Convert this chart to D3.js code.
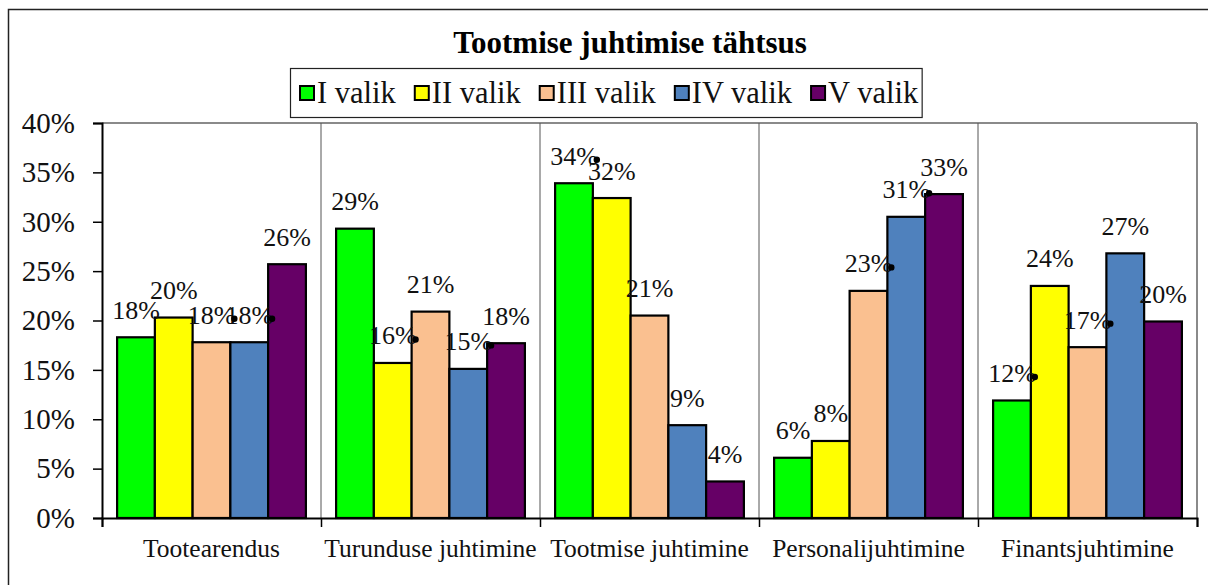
<!DOCTYPE html>
<html>
<head>
<meta charset="utf-8">
<script src="https://cdn.jsdelivr.net/npm/d3@7"></script>
<style>
  body { margin: 0; background: #fff; }
  svg text { font-family: "Liberation Serif", "Times New Roman", serif; }
</style>
</head>
<body>
<div id="mainCanvas"></div>
<script>
// chart data
var categories = ["Tootearendus", "Turunduse juhtimine", "Tootmise juhtimine", "Personalijuhtimine", "Finantsjuhtimine"];
var seriesNames = ["I valik", "II valik", "III valik", "IV valik", "V valik"];
var iValik   = [18.3, 29.3, 33.9, 6.1, 11.9];
var iiValik  = [20.3, 15.7, 32.4, 7.8, 23.5];
var iiiValik = [17.8, 20.9, 20.5, 23.0, 17.3];
var ivValik  = [17.8, 15.1, 9.4, 30.5, 26.8];
var vValik   = [25.7, 17.7, 3.7, 32.8, 19.9];
var yTicks = [0, 5, 10, 15, 20, 25, 30, 35, 40];
var seriesColors = ["#00ff00", "#ffff00", "#fac090", "#4f81bd", "#660066"];
// labels that show the little leader dot in the original [category, series]
var leaderDots = [[0,2],[0,3],[1,1],[1,3],[2,0],[3,2],[3,3],[4,0],[4,2]];

var allSeries = [iValik, iiValik, iiiValik, ivValik, vValik];

var width = 1208, height = 585;
var plot = {left: 102, right: 1197, top: 123, bottom: 518};
var serif = "'Liberation Serif', 'Times New Roman', serif";

var svg = d3.select("#mainCanvas").append("svg")
    .attr("width", width)
    .attr("height", height);

svg.append("rect").attr("width", width).attr("height", height).style("fill", "#fff");

// outer frame (runs off the right and bottom edge)
svg.append("rect")
    .attr("x", 8.5).attr("y", 9.5)
    .attr("width", 1230).attr("height", 600)
    .style("fill", "none").style("stroke", "#222").style("stroke-width", 1.5);

var x0 = d3.scaleBand().domain(d3.range(categories.length))
    .range([plot.left, plot.right]).paddingInner(0).paddingOuter(0);
var x1 = d3.scaleBand().domain(d3.range(seriesNames.length))
    .range([0, x0.bandwidth()]).paddingInner(0).paddingOuter(0.4);
var y = d3.scaleLinear().domain([0, 40]).range([plot.bottom, plot.top]);

// plot border (top + right) and category separators
svg.append("line")
    .attr("x1", plot.left).attr("x2", plot.right)
    .attr("y1", plot.top).attr("y2", plot.top)
    .style("stroke", "#8a8a8a").style("stroke-width", 2);
svg.append("line")
    .attr("x1", plot.right).attr("x2", plot.right)
    .attr("y1", plot.top).attr("y2", plot.bottom)
    .style("stroke", "#8a8a8a").style("stroke-width", 2);
svg.selectAll(".sep").data(d3.range(1, categories.length)).enter()
    .append("line").attr("class", "sep")
    .attr("x1", function(d){ return x0(d); }).attr("x2", function(d){ return x0(d); })
    .attr("y1", plot.top).attr("y2", plot.bottom)
    .style("stroke", "#555").style("stroke-width", 1);

// bars
var groups = svg.selectAll(".cat").data(categories).enter()
    .append("g").attr("class", "cat")
    .attr("transform", function(d, i){ return "translate(" + x0(i) + ",0)"; });

groups.selectAll("rect").data(function(d, ci){
        return allSeries.map(function(s, si){ return {ci: ci, si: si, v: s[ci]}; });
    }).enter()
    .append("rect")
    .attr("x", function(d){ return x1(d.si); })
    .attr("y", function(d){ return y(d.v); })
    .attr("width", x1.bandwidth())
    .attr("height", function(d){ return y(0) - y(d.v); })
    .style("fill", function(d){ return seriesColors[d.si]; })
    .style("stroke", "#000").style("stroke-width", 2.2);

// data labels
var labels = groups.selectAll("text.val").data(function(d, ci){
        return allSeries.map(function(s, si){ return {ci: ci, si: si, v: s[ci]}; });
    }).enter()
    .append("text").attr("class", "val")
    .attr("x", function(d){ return x1(d.si) + x1.bandwidth() / 2; })
    .attr("y", function(d){ return y(d.v) - 18.5; })
    .attr("text-anchor", "middle")
    .style("font-family", serif)
    .style("font-size", "26px")
    .style("fill", "#111")
    .text(function(d){ return Math.round(d.v) + "%"; });

labels.each(function(d){
    var hasDot = leaderDots.some(function(p){ return p[0] === d.ci && p[1] === d.si; });
    if (!hasDot) return;
    var w = this.getComputedTextLength();
    d3.select(this.parentNode).append("circle")
        .attr("cx", x1(d.si) + x1.bandwidth() / 2 + w / 2 - 1)
        .attr("cy", y(d.v) - 18.5 - 5)
        .attr("r", 3.2)
        .style("fill", "#000");
});

// y axis
var yAxis = d3.axisLeft(y).tickValues(yTicks).tickSize(9).tickPadding(18)
    .tickFormat(function(d){ return d + "%"; });
var gy = svg.append("g").attr("transform", "translate(" + plot.left + ",0)").call(yAxis);
gy.attr("font-family", null);
gy.select(".domain").style("stroke", "#000").style("stroke-width", 2);
gy.selectAll(".tick line").style("stroke", "#000").style("stroke-width", 1.5);
gy.selectAll(".tick text").style("font-size", "29px").style("fill", "#111")
    .style("font-family", serif).attr("dy", "0.32em");

// x axis: ticks on category boundaries
var xb = d3.scaleLinear().domain([0, categories.length]).range([plot.left, plot.right]);
var xAxis = d3.axisBottom(xb).tickValues(d3.range(categories.length + 1)).tickSize(9)
    .tickFormat("");
var gx = svg.append("g").attr("transform", "translate(0," + plot.bottom + ")").call(xAxis);
gx.select(".domain").style("stroke", "#000").style("stroke-width", 2);
gx.selectAll(".tick line").style("stroke", "#000").style("stroke-width", 1.5);

svg.selectAll(".catlabel").data(categories).enter()
    .append("text").attr("class", "catlabel")
    .attr("x", function(d, i){ return x0(i) + x0.bandwidth() / 2; })
    .attr("y", plot.bottom + 39)
    .attr("text-anchor", "middle")
    .style("font-family", serif)
    .style("font-size", "25.5px")
    .style("fill", "#111")
    .text(function(d){ return d; });

// title
svg.append("text")
    .attr("x", 630).attr("y", 53)
    .attr("text-anchor", "middle")
    .style("font-family", serif)
    .style("font-size", "31px").style("font-weight", "bold")
    .text("Tootmise juhtimise tähtsus");

// legend
var legend = svg.append("g").attr("class", "legend");
var legBox = legend.append("rect")
    .attr("x", 290.5).attr("y", 68.5).attr("height", 49)
    .style("fill", "#fff").style("stroke", "#222").style("stroke-width", 1.2);
var lx = 300;
seriesNames.forEach(function(name, i){
    legend.append("rect")
        .attr("x", lx).attr("y", 86).attr("width", 14).attr("height", 14)
        .style("fill", seriesColors[i]).style("stroke", "#000").style("stroke-width", 2);
    var t = legend.append("text")
        .attr("x", lx + 17).attr("y", 103)
        .style("font-family", serif)
        .style("font-size", "30.5px").style("fill", "#111")
        .text(name);
    lx += 17 + t.node().getComputedTextLength() + 19;
});
legBox.attr("width", lx - 19 + 4 - 290.5);
</script>
</body>
</html>
